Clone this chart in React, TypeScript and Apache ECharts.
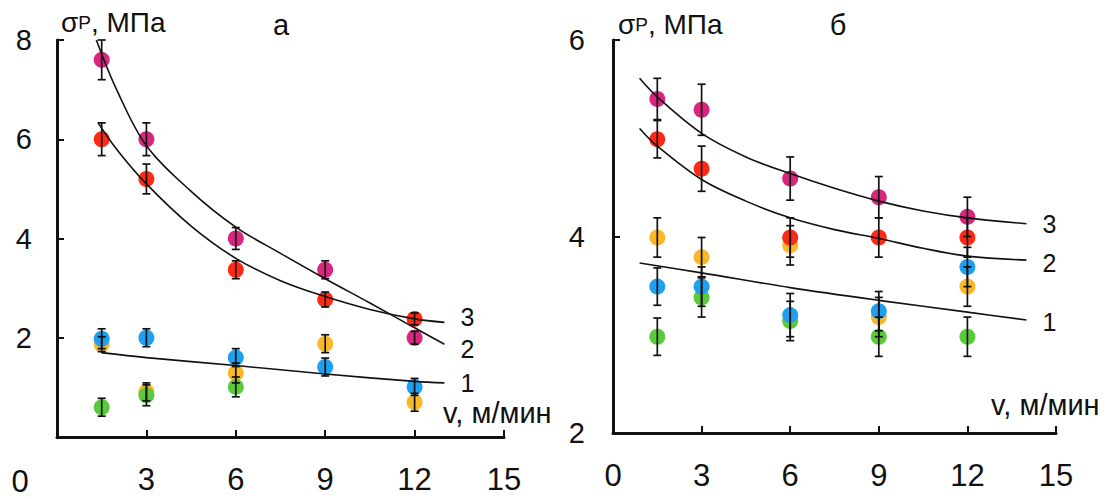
import React, { useEffect, useRef } from "react";
import * as echarts from "echarts";

const FONT = "'Liberation Sans', Arial, Helvetica, sans-serif";
const INK = "#111111";

// common x positions of measurements (v, m/min)
const xCols = [1.5, 3, 6, 9, 12];

// ---- panel а ----
const aMagenta = [7.6, 6.0, 4.0, 3.37, 2.0];
const aMagentaErr = [0.4, 0.33, 0.22, 0.18, 0.13];
const aRed = [6.0, 5.2, 3.37, 2.77, 2.38];
const aRedErr = [0.33, 0.3, 0.18, 0.15, 0.12];
const aBlue = [1.98, 2.0, 1.6, 1.41, 1.01];
const aBlueErr = [0.2, 0.18, 0.18, 0.18, 0.17];
const aOrange = [1.87, 0.91, 1.29, 1.88, 0.7];
const aOrangeErr = [0.15, 0.18, 0.2, 0.18, 0.18];
const aGreenX = [1.5, 3, 6];
const aGreen = [0.6, 0.84, 1.01];
const aGreenErr = [0.18, 0.21, 0.2];

// fitted curves, panel а
const aFitSteepX = [1.32, 2, 3, 4.5, 6, 7.5, 9, 10.5, 12, 13];
const aFitSteepY = [8.0, 7.0, 5.87, 4.95, 4.23, 3.7, 3.19, 2.7, 2.2, 1.87];
const aFitFlatX = [1.38, 2, 3, 4.5, 6, 7.5, 9, 10.5, 12, 13];
const aFitFlatY = [6.33, 5.8, 5.1, 4.25, 3.6, 3.15, 2.83, 2.57, 2.38, 2.31];
const aFit1X = [1.48, 3, 6, 9, 12, 13];
const aFit1Y = [1.7, 1.6, 1.44, 1.27, 1.12, 1.09];

// ---- panel б ----
const bMagenta = [5.4, 5.29, 4.59, 4.4, 4.2];
const bMagentaErr = [0.21, 0.26, 0.22, 0.21, 0.2];
const bRed = [4.99, 4.69, 3.99, 3.99, 3.99];
const bRedErr = [0.19, 0.23, 0.2, 0.2, 0.2];
const bOrange = [3.99, 3.79, 3.91, 3.18, 3.49];
const bOrangeErr = [0.2, 0.2, 0.2, 0.2, 0.2];
const bBlue = [3.49, 3.49, 3.2, 3.24, 3.69];
const bBlueErr = [0.19, 0.2, 0.22, 0.2, 0.2];
const bGreen = [2.98, 3.38, 3.14, 2.98, 2.98];
const bGreenErr = [0.19, 0.2, 0.2, 0.2, 0.2];

const bFit3X = [0.9, 1.5, 3, 4.5, 6, 7.5, 9, 10.5, 12, 14];
const bFit3Y = [5.61, 5.42, 5.05, 4.81, 4.64, 4.49, 4.36, 4.26, 4.19, 4.13];
const bFit2X = [0.9, 1.5, 3, 4.5, 6, 7.5, 9, 10.5, 12, 14];
const bFit2Y = [5.1, 4.92, 4.58, 4.36, 4.19, 4.07, 3.98, 3.88, 3.8, 3.76];
const bFit1X = [0.9, 3, 6, 9, 12, 14];
const bFit1Y = [3.73, 3.63, 3.48, 3.35, 3.23, 3.15];

const xTicksMin = 0;
const xTicksMax = 15;
const xStep = 3;

const C_MAGENTA = "#d6267e";
const C_RED = "#ff2a16";
const C_BLUE = "#1f9ff0";
const C_ORANGE = "#f8b828";
const C_GREEN = "#5cc93a";

function pts(xs: number[], ys: number[]) {
  return xs.map((x, i) => [x, ys[i]]);
}
function errs(xs: number[], ys: number[], es: number[]) {
  return xs.map((x, i) => [x, ys[i] - es[i], ys[i] + es[i]]);
}

function scatter(g: number, xs: number[], ys: number[], color: string, z: number) {
  return {
    type: "scatter",
    xAxisIndex: g,
    yAxisIndex: g,
    data: pts(xs, ys),
    symbol: "circle",
    symbolSize: 16,
    itemStyle: { color, opacity: 1 },
    z,
    silent: true,
  };
}

function errorBars(g: number, xs: number[], ys: number[], es: number[]) {
  return {
    type: "custom",
    xAxisIndex: g,
    yAxisIndex: g,
    data: errs(xs, ys, es),
    encode: { x: 0, y: [1, 2] },
    z: 10,
    silent: true,
    renderItem: (params: any, api: any) => {
      const x = api.value(0);
      const lo = api.value(1);
      const hi = api.value(2);
      const t = api.coord([x, hi]);
      const b = api.coord([x, lo]);
      const w = 4;
      const st = { stroke: INK, lineWidth: 1.7 };
      return {
        type: "group",
        children: [
          { type: "line", shape: { x1: t[0], y1: t[1], x2: b[0], y2: b[1] }, style: st },
          { type: "line", shape: { x1: t[0] - w, y1: t[1], x2: t[0] + w, y2: t[1] }, style: st },
          { type: "line", shape: { x1: b[0] - w, y1: b[1], x2: b[0] + w, y2: b[1] }, style: st },
        ],
      };
    },
  };
}

function fit(g: number, xs: number[], ys: number[], label: string, dy: number) {
  return {
    type: "line",
    xAxisIndex: g,
    yAxisIndex: g,
    data: pts(xs, ys),
    smooth: 0.35,
    showSymbol: false,
    symbol: "none",
    lineStyle: { color: INK, width: 1.6 },
    z: 8,
    silent: true,
    endLabel: {
      show: true,
      formatter: label,
      distance: 16,
      offset: [0, dy],
      fontSize: 25,
      fontFamily: FONT,
      color: INK,
    },
  };
}

const axisLineStyle = {
  axisLine: { show: true, onZero: false, lineStyle: { color: INK, width: 3 } },
  axisTick: { show: true, inside: true, length: 7, lineStyle: { color: INK, width: 2 } },
  splitLine: { show: false },
};

const titleRich = {
  s: { fontSize: 28, fontFamily: FONT, color: INK, fontWeight: "normal" },
  p: { fontSize: 19, fontFamily: FONT, color: INK, fontWeight: "normal" },
  n: { fontSize: 28, fontFamily: FONT, color: INK, fontWeight: "normal" },
};

const option: any = {
  animation: false,
  backgroundColor: "#ffffff",
  title: [
    {
      text: "{s|σ}{p|P}{n|, МПа}",
      left: 61,
      top: 8,
      padding: 0,
      textStyle: { fontWeight: "normal", rich: titleRich },
    },
    {
      text: "{s|σ}{p|P}{n|, МПа}",
      left: 618,
      top: 10,
      padding: 0,
      textStyle: { fontWeight: "normal", rich: titleRich },
    },
  ],
  grid: [
    { left: 57, top: 40, width: 447, height: 397 },
    { left: 613, top: 40, width: 443, height: 393 },
  ],
  xAxis: [
    {
      gridIndex: 0,
      type: "value",
      min: xTicksMin,
      max: xTicksMax,
      interval: xStep,
      ...axisLineStyle,
      axisLabel: {
        fontSize: 31,
        fontFamily: FONT,
        color: INK,
        margin: 27,
        formatter: (v: number) => (v === 0 ? "" : String(v)),
      },
    },
    {
      gridIndex: 1,
      type: "value",
      min: xTicksMin,
      max: xTicksMax,
      interval: xStep,
      ...axisLineStyle,
      axisLabel: { fontSize: 31, fontFamily: FONT, color: INK, margin: 27 },
    },
  ],
  yAxis: [
    {
      gridIndex: 0,
      type: "value",
      min: 0,
      max: 8,
      interval: 2,
      ...axisLineStyle,
      axisLabel: {
        fontSize: 29,
        fontFamily: FONT,
        color: INK,
        margin: 25,
        formatter: (v: number) => (v === 0 ? "" : String(v)),
      },
    },
    {
      gridIndex: 1,
      type: "value",
      min: 2,
      max: 6,
      interval: 2,
      ...axisLineStyle,
      axisLabel: { fontSize: 29, fontFamily: FONT, color: INK, margin: 28 },
    },
  ],
  graphic: [
    { type: "text", x: 20, y: 481, style: { text: "0", fontSize: 31, fontFamily: FONT, fill: INK, align: "center", verticalAlign: "middle" } },
    { type: "text", x: 281, y: 25, style: { text: "а", fontSize: 29, fontFamily: FONT, fill: INK, align: "center", verticalAlign: "middle" } },
    { type: "text", x: 838, y: 25, style: { text: "б", fontSize: 29, fontFamily: FONT, fill: INK, align: "center", verticalAlign: "middle" } },
    { type: "text", x: 443, y: 413, style: { text: "v, м/мин", fontSize: 29, fontFamily: FONT, fill: INK, align: "left", verticalAlign: "middle" } },
    { type: "text", x: 991, y: 405, style: { text: "v, м/мин", fontSize: 29, fontFamily: FONT, fill: INK, align: "left", verticalAlign: "middle" } },
  ],
  series: [
    // panel а
    scatter(0, xCols, aOrange, C_ORANGE, 2),
    scatter(0, aGreenX, aGreen, C_GREEN, 3),
    scatter(0, xCols, aBlue, C_BLUE, 4),
    scatter(0, xCols, aRed, C_RED, 5),
    scatter(0, xCols, aMagenta, C_MAGENTA, 6),
    errorBars(0, xCols, aOrange, aOrangeErr),
    errorBars(0, aGreenX, aGreen, aGreenErr),
    errorBars(0, xCols, aBlue, aBlueErr),
    errorBars(0, xCols, aRed, aRedErr),
    errorBars(0, xCols, aMagenta, aMagentaErr),
    fit(0, aFitFlatX, aFitFlatY, "3", -5),
    fit(0, aFitSteepX, aFitSteepY, "2", 5),
    fit(0, aFit1X, aFit1Y, "1", 0),
    // panel б
    scatter(1, xCols, bOrange, C_ORANGE, 2),
    scatter(1, xCols, bGreen, C_GREEN, 3),
    scatter(1, xCols, bBlue, C_BLUE, 4),
    scatter(1, xCols, bRed, C_RED, 5),
    scatter(1, xCols, bMagenta, C_MAGENTA, 6),
    errorBars(1, xCols, bOrange, bOrangeErr),
    errorBars(1, xCols, bGreen, bGreenErr),
    errorBars(1, xCols, bBlue, bBlueErr),
    errorBars(1, xCols, bRed, bRedErr),
    errorBars(1, xCols, bMagenta, bMagentaErr),
    fit(1, bFit3X, bFit3Y, "3", 0),
    fit(1, bFit2X, bFit2Y, "2", 3),
    fit(1, bFit1X, bFit1Y, "1", 2),
  ],
};

export default function App() {
  const ref = useRef<HTMLDivElement>(null);
  useEffect(() => {
    if (!ref.current) return;
    const chart = echarts.init(ref.current, null, { renderer: "svg" });
    chart.setOption(option);
    return () => chart.dispose();
  }, []);
  return (
    <div
      ref={ref}
      style={{ position: "absolute", left: 0, top: 0, width: 1113, height: 499, background: "#ffffff" }}
    />
  );
}
